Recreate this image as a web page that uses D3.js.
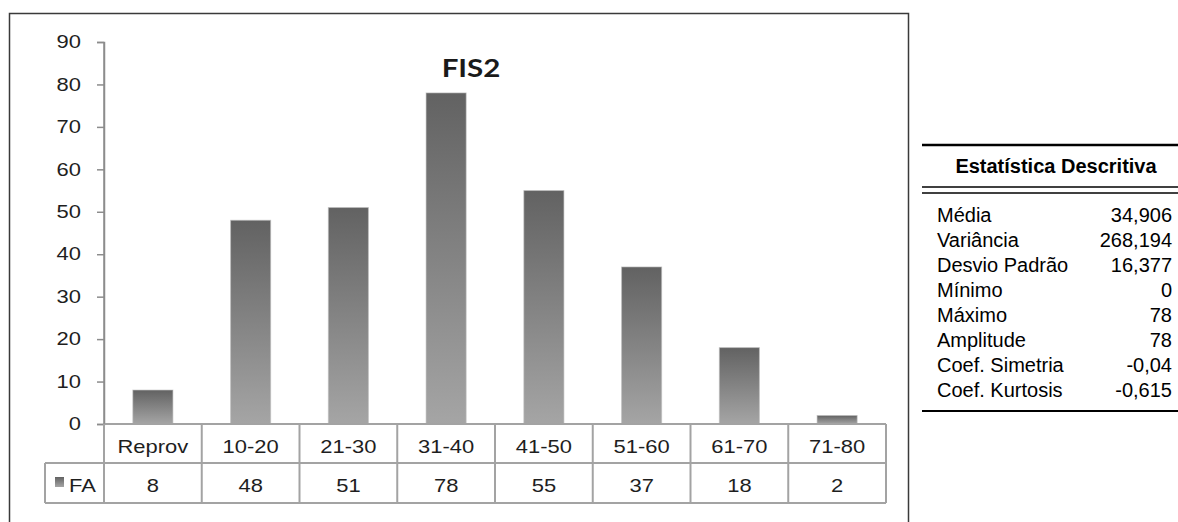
<!DOCTYPE html>
<html>
<head>
<meta charset="utf-8">
<script src="https://cdn.jsdelivr.net/npm/d3@7"></script>
<style>
  html, body { margin: 0; padding: 0; background: #fff; }
  svg { display: block; }
</style>
</head>
<body>
<div id="chart"></div>
<script>
// FIS2 frequency distribution by score band
const categories = ["Reprov", "10-20", "21-30", "31-40", "41-50", "51-60", "61-70", "71-80"];
const faValues = [8, 48, 51, 78, 55, 37, 18, 2];
const yTicks = [0, 10, 20, 30, 40, 50, 60, 70, 80, 90];
const seriesName = "FA";
const chartTitle = "FIS2";

// Descriptive statistics panel
const statsTitle = "Estatística Descritiva";
const statLabels = ["Média", "Variância", "Desvio Padrão", "Mínimo", "Máximo", "Amplitude", "Coef. Simetria", "Coef. Kurtosis"];
const statValues = ["34,906", "268,194", "16,377", "0", "78", "78", "-0,04", "-0,615"];

const W = 1178, H = 522;
const svg = d3.select("#chart").append("svg").attr("width", W).attr("height", H);

const defs = svg.append("defs");
const grad = defs.append("linearGradient").attr("id", "barGrad")
  .attr("x1", 0).attr("y1", 0).attr("x2", 0).attr("y2", 1);
grad.append("stop").attr("offset", "0%").attr("stop-color", "#626262");
grad.append("stop").attr("offset", "100%").attr("stop-color", "#a5a5a5");

const SX = 1.22; // horizontal stretch of the chart lettering
const chartFont = "'Liberation Sans', Arial, sans-serif";

// outer frame of the chart object (bottom edge falls below the page)
svg.append("path")
  .attr("d", "M9.5,530 V13.5 H908.5 V530")
  .attr("fill", "none").attr("stroke", "#3a3a3a").attr("stroke-width", 1.5);

const plotLeft = 104, plotRight = 886, plotTop = 42, plotBottom = 424;
const row1Bottom = 463, row2Bottom = 503, legendLeft = 45;

const x = d3.scaleBand().domain(categories).range([plotLeft, plotRight])
  .paddingInner(0.59).paddingOuter(0.295);
const y = d3.scaleLinear().domain([0, 90]).range([plotBottom, plotTop]);
const colX = d3.scaleBand().domain(categories).range([plotLeft, plotRight]);

// y axis
const yAxis = svg.append("g").attr("transform", `translate(${plotLeft},0)`)
  .call(d3.axisLeft(y).tickValues(yTicks).tickSize(7).tickSizeOuter(7).tickPadding(16));
yAxis.selectAll("path, line").attr("stroke", "#8c8c8c").attr("stroke-width", 1.5);
yAxis.selectAll("text")
  .attr("x", null)
  .attr("transform", `translate(-23,0) scale(${SX},1)`)
  .attr("font-family", chartFont).attr("font-size", 18)
  .attr("fill", "#1e1e1e");

// bars
svg.append("g").selectAll("rect").data(faValues).join("rect")
  .attr("x", (d, i) => x(categories[i]))
  .attr("y", d => y(d))
  .attr("width", x.bandwidth())
  .attr("height", d => y(0) - y(d))
  .attr("fill", "url(#barGrad)")
  .attr("stroke", "#bdbdbd").attr("stroke-width", 1).attr("stroke-opacity", 0.6);

// data table under the plot
const tbl = svg.append("g").attr("stroke", "#a3a3a3").attr("stroke-width", 2).attr("fill", "none");
tbl.append("line").attr("x1", plotLeft).attr("x2", plotRight).attr("y1", plotBottom).attr("y2", plotBottom);
tbl.append("line").attr("x1", legendLeft).attr("x2", plotRight).attr("y1", row1Bottom).attr("y2", row1Bottom);
tbl.append("line").attr("x1", legendLeft).attr("x2", plotRight).attr("y1", row2Bottom).attr("y2", row2Bottom);
tbl.append("line").attr("x1", legendLeft).attr("x2", legendLeft).attr("y1", row1Bottom).attr("y2", row2Bottom);
tbl.append("line").attr("x1", plotLeft).attr("x2", plotLeft).attr("y1", plotBottom).attr("y2", row2Bottom);
tbl.selectAll("line.col").data(categories).join("line").attr("class", "col")
  .attr("x1", d => colX(d) + colX.bandwidth()).attr("x2", d => colX(d) + colX.bandwidth())
  .attr("y1", plotBottom).attr("y2", row2Bottom);
// re-draw the y axis line stretch down through the category row in axis grey
svg.append("line").attr("x1", plotLeft).attr("x2", plotLeft).attr("y1", plotTop).attr("y2", plotBottom)
  .attr("stroke", "#8c8c8c").attr("stroke-width", 1.5);

const stretchText = (sel, fx, fy) => sel
  .attr("transform", (d, i) => `translate(${fx(d, i)},${fy(d, i)}) scale(${SX},1)`);

svg.append("g").selectAll("text").data(categories).join("text")
  .call(stretchText, d => colX(d) + colX.bandwidth() / 2, () => 453)
  .attr("text-anchor", "middle")
  .attr("font-family", chartFont).attr("font-size", 18).attr("fill", "#1e1e1e")
  .text(d => d);

svg.append("g").selectAll("text").data(faValues).join("text")
  .call(stretchText, (d, i) => colX(categories[i]) + colX.bandwidth() / 2, () => 492)
  .attr("text-anchor", "middle")
  .attr("font-family", chartFont).attr("font-size", 18).attr("fill", "#1e1e1e")
  .text(d => d);

// legend key in the table
svg.append("rect").attr("x", 55).attr("y", 477).attr("width", 9).attr("height", 10)
  .attr("fill", "url(#barGrad)");
svg.append("text").attr("transform", `translate(69,492) scale(${SX},1)`)
  .attr("font-family", chartFont).attr("font-size", 18).attr("fill", "#1e1e1e")
  .text(seriesName);

// title
svg.append("text").attr("transform", `translate(471,77) scale(1.18,1)`)
  .attr("text-anchor", "middle")
  .attr("font-family", "Lato, 'Open Sans', sans-serif").attr("font-weight", "bold")
  .attr("font-size", 25).attr("fill", "#1a1a1a")
  .text(chartTitle);

// statistics panel
const statsFont = "'Liberation Sans', Helvetica, Arial, sans-serif";
const sp = svg.append("g");
const ruleL = 922, ruleR = 1178;
sp.append("line").attr("x1", ruleL).attr("x2", ruleR).attr("y1", 145).attr("y2", 145)
  .attr("stroke", "#000").attr("stroke-width", 2.5);
sp.append("text").attr("x", 1056).attr("y", 173).attr("text-anchor", "middle")
  .attr("font-family", statsFont).attr("font-weight", "bold").attr("font-size", 20)
  .text(statsTitle);
sp.append("line").attr("x1", ruleL).attr("x2", ruleR).attr("y1", 187).attr("y2", 187)
  .attr("stroke", "#000").attr("stroke-width", 1.6);
sp.append("line").attr("x1", ruleL).attr("x2", ruleR).attr("y1", 193).attr("y2", 193)
  .attr("stroke", "#000").attr("stroke-width", 1.6);

const rowY = d3.scalePoint().domain(d3.range(statLabels.length)).range([222, 397]);
sp.append("g").selectAll("text").data(statLabels).join("text")
  .attr("x", 937).attr("y", (d, i) => rowY(i))
  .attr("font-family", statsFont).attr("font-size", 20).attr("fill", "#000")
  .text(d => d);
sp.append("g").selectAll("text").data(statValues).join("text")
  .attr("x", 1172).attr("y", (d, i) => rowY(i)).attr("text-anchor", "end")
  .attr("font-family", statsFont).attr("font-size", 20).attr("fill", "#000")
  .text(d => d);
sp.append("line").attr("x1", ruleL).attr("x2", ruleR).attr("y1", 411).attr("y2", 411)
  .attr("stroke", "#000").attr("stroke-width", 2);
</script>
</body>
</html>
